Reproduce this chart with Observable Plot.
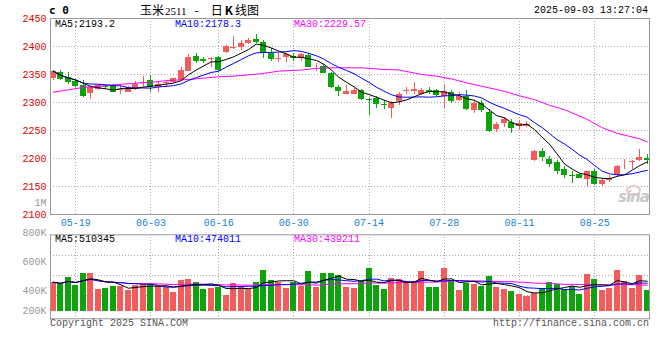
<!DOCTYPE html>
<html><head><meta charset="utf-8">
<script src="https://cdn.jsdelivr.net/npm/d3@7"></script>
<script src="https://cdn.jsdelivr.net/npm/@observablehq/plot@0.6"></script>
<style>
body{margin:0;background:#fff;}
#wrap{position:relative;width:660px;height:360px;overflow:hidden;background:#fff;font-family:"Liberation Mono",monospace;font-size:10px;}
#wrap svg{position:absolute;left:0;top:0;}
.t{position:absolute;white-space:nowrap;line-height:1;}
</style></head><body><div id="wrap"></div>
<script>
// ---- data ----
const opens  = [2343,2354,2345,2338,2330,2316,2323,2328,2330,2321,2318,2323,2334,2340,2327,2334,2335,2340,2355,2382,2377,2377,2381,2390,2397,2398,2405,2412,2408,2388,2377,2380,2382,2379,2384,2362,2364,2352,2327,2315,2315,2321,2305,2307,2296,2290,2301,2320,2320,2314,2322,2322,2311,2318,2303,2311,2286,2299,2283,2252,2263,2265,2258,2258,2197,2212,2199,2192,2180,2169,2171,2163,2176,2154,2160,2170,2189,2192,2196,2200];
const highs  = [2358,2358,2353,2340,2339,2330,2332,2331,2333,2330,2329,2337,2346,2348,2337,2340,2343,2363,2386,2387,2381,2381,2383,2402,2417,2411,2414,2421,2411,2396,2388,2388,2387,2387,2388,2369,2367,2354,2330,2330,2325,2323,2307,2310,2303,2301,2317,2327,2335,2325,2327,2324,2330,2321,2318,2321,2304,2304,2287,2265,2273,2269,2268,2266,2214,2217,2203,2196,2186,2176,2174,2176,2180,2164,2170,2188,2199,2196,2216,2207];
const lows   = [2340,2339,2332,2327,2309,2306,2321,2324,2317,2315,2317,2322,2327,2317,2318,2327,2334,2340,2355,2369,2369,2363,2356,2388,2394,2393,2404,2405,2379,2374,2372,2372,2374,2374,2362,2356,2351,2325,2310,2315,2314,2303,2276,2290,2287,2272,2294,2314,2315,2313,2314,2310,2290,2299,2301,2286,2281,2283,2247,2246,2256,2245,2250,2255,2195,2195,2184,2172,2164,2156,2164,2148,2151,2150,2158,2167,2180,2181,2194,2189];
const closes = [2356,2341,2335,2329,2311,2326,2330,2326,2318,2324,2326,2333,2336,2326,2333,2336,2342,2357,2380,2374,2373,2379,2358,2400,2398,2406,2411,2407,2387,2376,2378,2386,2378,2385,2363,2363,2352,2326,2320,2320,2322,2305,2304,2296,2294,2298,2314,2321,2324,2322,2317,2312,2320,2302,2311,2288,2299,2285,2249,2261,2269,2254,2263,2260,2212,2202,2190,2177,2169,2168,2165,2176,2154,2160,2165,2186,2190,2195,2201,2197];
const volumes= [461,446,491,439,523,523,412,418,432,432,407,439,446,446,434,423,393,473,482,461,412,421,427,371,455,423,412,461,541,473,461,421,459,432,536,427,523,523,507,427,418,466,557,439,412,489,480,466,466,536,427,427,557,473,405,455,448,434,502,427,414,400,378,366,382,421,461,448,412,434,378,516,480,405,421,541,466,421,507,405].map(v => v * 1000);
const ma30Idx = [0,2,4,7,8,11,13,15,18,20,22,24,27,28,30,33,35,38,41,44,46,49,51,53,55,58,60,62,64,66,68,71,73,75,78,79];
const ma30Val = [2318.5,2322.6,2327,2330,2331.5,2334.5,2336,2339,2341,2343.5,2346,2347,2350.6,2352,2356,2358,2361,2362,2362,2359,2358,2350,2347,2342,2335,2326,2320,2312,2305,2295,2287,2270,2255,2245,2235,2229.6];
const dateIdx = [3,13,22,32,42,52,62,72];
const dateLabels = ["05-19","06-03","06-16","06-30","07-14","07-28","08-11","08-25"];
const priceTicks = [2100,2150,2200,2250,2300,2350,2400,2450];
const volTicks = [200000,400000,600000,800000,1000000];
const volGrid = [641000,505000,369000];
const volFloor = 264000;
const priceLegend = [["MA5",2193.2,"#000"],["MA10",2178.3,"#0000ff"],["MA30",2229.57,"#ff00ff"]];
const volLegend = [["MA5",510345,"#000"],["MA10",474011,"#0000ff"],["MA30",439211,"#ff00ff"]];

const UP = "#f45b5b", DOWN = "#0ca30c";
const data = d3.range(opens.length).map(i => ({i, o: opens[i], h: highs[i], l: lows[i], c: closes[i], v: volumes[i], col: closes[i] >= opens[i] ? UP : DOWN}));
const ma30 = ma30Idx.map((i, k) => ({i, v: ma30Val[k]}));
const xDomain = [-0.36, 79.29];
const dotted = {stroke: "#aaa", strokeDasharray: "1,2", shapeRendering: "crispEdges"};
const font = "Liberation Mono, monospace";

const price = Plot.plot({
  width: 660, height: 232, marginTop: 18, marginBottom: 18, marginLeft: 50, marginRight: 11,
  style: {background: "transparent", fontFamily: font, fontSize: "10px"},
  x: {domain: xDomain}, y: {domain: [2100, 2450]}, color: {type: "identity"},
  marks: [
    Plot.ruleY(priceTicks.slice(1, -1), dotted),
    Plot.ruleX(dateIdx, dotted),
    Plot.ruleX(data, {x: "i", y1: "l", y2: "h", stroke: "col", shapeRendering: "crispEdges"}),
    Plot.rect(data, {x1: d => d.i - 0.4, x2: d => d.i + 0.4, y1: "o", y2: "c", fill: "col", shapeRendering: "crispEdges"}),
    Plot.line(ma30, {x: "i", y: "v", stroke: "#ff00ff", strokeWidth: 1}),
    Plot.line(data, Plot.windowY({k: 10, anchor: "end", strict: false}, {x: "i", y: "c", stroke: "#0000ff", strokeWidth: 1})),
    Plot.line(data, Plot.windowY({k: 5, anchor: "end", strict: false}, {x: "i", y: "c", stroke: "#000", strokeWidth: 1})),
    Plot.frame({stroke: "#999"}),
    Plot.axisY({ticks: priceTicks, tickFormat: d => String(d), tickSize: 0, tickPadding: 4, fill: "#e00000", label: null, fontFamily: font, fontSize: 10}),
    Plot.axisX({ticks: dateIdx, tickFormat: i => dateLabels[dateIdx.indexOf(i)], tickSize: 0, tickPadding: 4, fill: "#1a7fd0", label: null, fontFamily: font, fontSize: 10})
  ]
});

const fmtVol = d => d >= 1e6 ? (d / 1e6) + "M" : (d / 1000) + "K";
const vol = Plot.plot({
  width: 660, height: 360, marginTop: 234.3, marginBottom: 41.7, marginLeft: 50, marginRight: 11,
  style: {background: "transparent", fontFamily: font, fontSize: "10px"},
  x: {domain: xDomain, axis: null}, y: {domain: [212200, 783700], axis: null}, color: {type: "identity"},
  marks: [
    Plot.ruleY(volGrid, dotted),
    Plot.ruleX(dateIdx, dotted),
    Plot.rect(data, {x1: d => d.i - 0.4, x2: d => d.i + 0.4, y1: volFloor, y2: "v", fill: "col", shapeRendering: "crispEdges"}),
    Plot.line(data, Plot.windowY({k: 30, anchor: "end", strict: false}, {x: "i", y: "v", stroke: "#ff00ff", strokeWidth: 1})),
    Plot.line(data, Plot.windowY({k: 10, anchor: "end", strict: false}, {x: "i", y: "v", stroke: "#0000ff", strokeWidth: 1})),
    Plot.line(data, Plot.windowY({k: 5, anchor: "end", strict: false}, {x: "i", y: "v", stroke: "#000", strokeWidth: 1})),
    Plot.frame({stroke: "#999"}),
    Plot.text(volTicks, {y: d => Math.max(d, volFloor), text: fmtVol, frameAnchor: "left", textAnchor: "end", dx: -4, fill: "#999", fontFamily: font, fontSize: 10})
  ]
});

const wrap = document.getElementById("wrap");
wrap.appendChild(price);
wrap.appendChild(vol);

function addText(html, css) {
  const d = document.createElement("div");
  d.className = "t";
  d.innerHTML = html;
  Object.assign(d.style, css);
  wrap.appendChild(d);
  return d;
}
addText("c 0", {left: "49px", top: "5px", fontFamily: "DejaVu Sans Mono", fontWeight: "bold", fontSize: "11px"});
addText('<span style="font-size:12px">玉米</span><span style="font-family:\'Liberation Serif\';font-size:11px;margin-left:1px">2511</span><span style="font-size:12px;margin-left:8px">-</span><span style="font-size:12px;margin-left:12px">日</span><span style="font-size:12px;font-weight:bold;margin-left:2px;margin-right:2px">K</span><span style="font-size:12px">线图</span>', {left: "140px", top: "4px", fontFamily: "'Noto Sans CJK SC'"});
addText("2025-09-03 13:27:04", {right: "12px", top: "6px"});
const legLeft = [55, 175, 294];
priceLegend.forEach(([k, v, c], j) => addText(k + ":" + v, {left: legLeft[j] + "px", top: "20px", color: c}));
volLegend.forEach(([k, v, c], j) => addText(k + ":" + v, {left: legLeft[j] + "px", top: "235px", color: c}));
addText("Copyright 2025 SINA.COM", {left: "50px", top: "319px", color: "#555"});
addText("http://finance.sina.com.cn", {right: "11px", top: "319px", color: "#555"});
addText("", {left: "626px", top: "185px", width: "11px", height: "7px", border: "2px solid #f2c4c4", borderRadius: "50%"});
addText("sina", {left: "618px", top: "190px", fontFamily: "DejaVu Sans", fontStyle: "italic", fontWeight: "bold", fontSize: "15px", color: "#c8c8c8", letterSpacing: "-1px"});
</script></body></html>
